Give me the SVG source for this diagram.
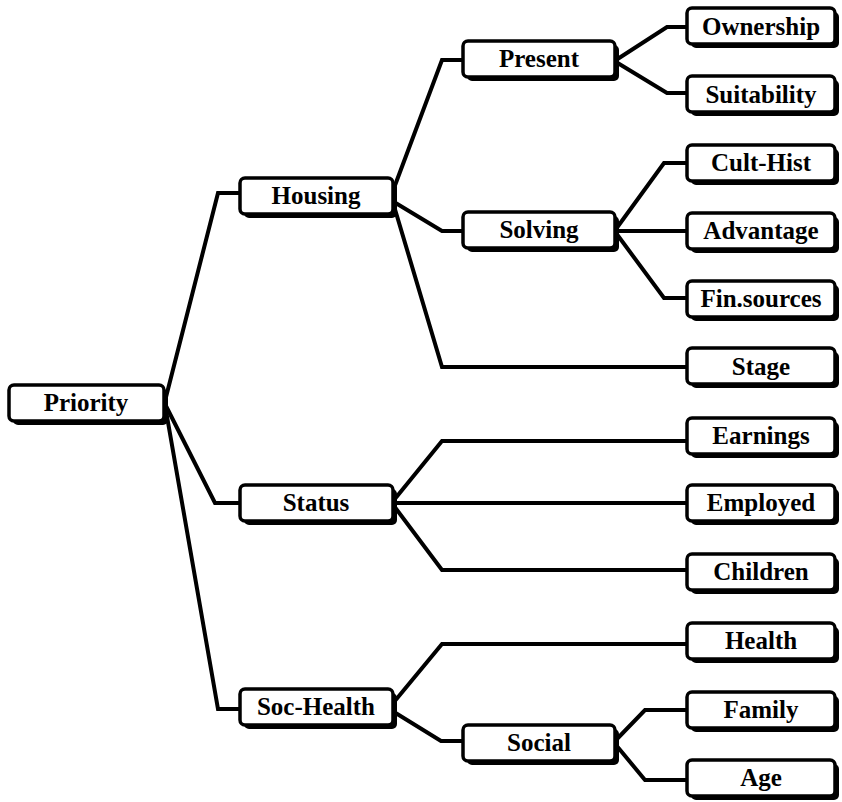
<svg xmlns="http://www.w3.org/2000/svg" width="842" height="802" viewBox="0 0 842 802">
<style>
.sh{fill:#000}
.bx{fill:#fff;stroke:#000;stroke-width:3.5}
.t{font-family:"Liberation Serif","Times New Roman",serif;font-weight:bold;font-size:25px;fill:#000;text-anchor:middle}
.c{fill:none;stroke:#000;stroke-width:4;stroke-linejoin:miter;stroke-linecap:butt}
</style>
<rect width="842" height="802" fill="#fff"/>
<g id="connectors">
<path class="c" d="M165,401 L218,193 L241,193"/>
<path class="c" d="M165,404 L215,503 L241,503"/>
<path class="c" d="M165,405 L218,709 L241,709"/>
<path class="c" d="M394,188 L442,60 L464,60"/>
<path class="c" d="M394,202 L442,231 L464,231"/>
<path class="c" d="M394,206 L442,367 L688,367"/>
<path class="c" d="M616,60 L667,27 L688,27"/>
<path class="c" d="M616,62 L667,93 L688,93"/>
<path class="c" d="M616,229 L664,163 L688,163"/>
<path class="c" d="M616,231 L688,231"/>
<path class="c" d="M616,233 L664,298 L688,298"/>
<path class="c" d="M394,500 L442,441 L688,441"/>
<path class="c" d="M394,503 L688,503"/>
<path class="c" d="M394,506 L442,570 L688,570"/>
<path class="c" d="M394,702 L442,644 L688,644"/>
<path class="c" d="M394,712 L441,741 L464,741"/>
<path class="c" d="M616,740 L645,710 L688,710"/>
<path class="c" d="M616,745 L645,780 L688,780"/>
</g>
<g id="n-priority"><rect class="sh" x="13" y="389" width="155" height="36" rx="5"/><rect class="bx" x="9" y="385" width="155" height="36" rx="5"/><text class="t" x="86" y="411">Priority</text></g>
<g id="n-housing"><rect class="sh" x="244" y="182" width="153" height="36" rx="5"/><rect class="bx" x="240" y="178" width="153" height="36" rx="5"/><text class="t" x="316" y="204">Housing</text></g>
<g id="n-status"><rect class="sh" x="244" y="489" width="153" height="36" rx="5"/><rect class="bx" x="240" y="485" width="153" height="36" rx="5"/><text class="t" x="316" y="511">Status</text></g>
<g id="n-soc-health"><rect class="sh" x="244" y="693" width="153" height="36" rx="5"/><rect class="bx" x="240" y="689" width="153" height="36" rx="5"/><text class="t" x="316" y="715">Soc-Health</text></g>
<g id="n-present"><rect class="sh" x="467" y="45" width="152" height="36" rx="5"/><rect class="bx" x="463" y="41" width="152" height="36" rx="5"/><text class="t" x="539" y="67">Present</text></g>
<g id="n-solving"><rect class="sh" x="467" y="216" width="152" height="36" rx="5"/><rect class="bx" x="463" y="212" width="152" height="36" rx="5"/><text class="t" x="539" y="238">Solving</text></g>
<g id="n-social"><rect class="sh" x="467" y="729" width="152" height="36" rx="5"/><rect class="bx" x="463" y="725" width="152" height="36" rx="5"/><text class="t" x="539" y="751">Social</text></g>
<g id="n-ownership"><rect class="sh" x="691" y="12" width="148" height="36" rx="5"/><rect class="bx" x="687" y="8" width="148" height="36" rx="5"/><text class="t" x="761" y="35">Ownership</text></g>
<g id="n-suitability"><rect class="sh" x="691" y="80" width="148" height="36" rx="5"/><rect class="bx" x="687" y="76" width="148" height="36" rx="5"/><text class="t" x="761" y="103">Suitability</text></g>
<g id="n-cult-hist"><rect class="sh" x="691" y="149" width="148" height="36" rx="5"/><rect class="bx" x="687" y="145" width="148" height="36" rx="5"/><text class="t" x="761" y="171">Cult-Hist</text></g>
<g id="n-advantage"><rect class="sh" x="691" y="217" width="148" height="36" rx="5"/><rect class="bx" x="687" y="213" width="148" height="36" rx="5"/><text class="t" x="761" y="239">Advantage</text></g>
<g id="n-fin-sources"><rect class="sh" x="691" y="285" width="148" height="36" rx="5"/><rect class="bx" x="687" y="281" width="148" height="36" rx="5"/><text class="t" x="761" y="307">Fin.sources</text></g>
<g id="n-stage"><rect class="sh" x="691" y="352" width="148" height="36" rx="5"/><rect class="bx" x="687" y="348" width="148" height="36" rx="5"/><text class="t" x="761" y="375">Stage</text></g>
<g id="n-earnings"><rect class="sh" x="691" y="422" width="148" height="36" rx="5"/><rect class="bx" x="687" y="418" width="148" height="36" rx="5"/><text class="t" x="761" y="444">Earnings</text></g>
<g id="n-employed"><rect class="sh" x="691" y="489" width="148" height="36" rx="5"/><rect class="bx" x="687" y="485" width="148" height="36" rx="5"/><text class="t" x="761" y="511">Employed</text></g>
<g id="n-children"><rect class="sh" x="691" y="558" width="148" height="36" rx="5"/><rect class="bx" x="687" y="554" width="148" height="36" rx="5"/><text class="t" x="761" y="580">Children</text></g>
<g id="n-health"><rect class="sh" x="691" y="627" width="148" height="36" rx="5"/><rect class="bx" x="687" y="623" width="148" height="36" rx="5"/><text class="t" x="761" y="649">Health</text></g>
<g id="n-family"><rect class="sh" x="691" y="696" width="148" height="36" rx="5"/><rect class="bx" x="687" y="692" width="148" height="36" rx="5"/><text class="t" x="761" y="718">Family</text></g>
<g id="n-age"><rect class="sh" x="691" y="764" width="148" height="36" rx="5"/><rect class="bx" x="687" y="760" width="148" height="36" rx="5"/><text class="t" x="761" y="786">Age</text></g>
</svg>
